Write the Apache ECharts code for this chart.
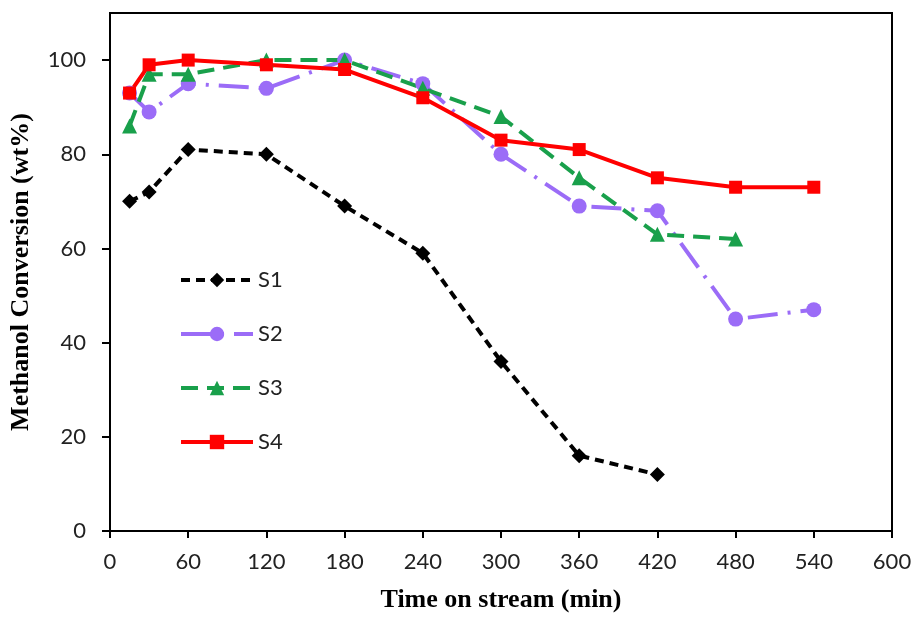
<!DOCTYPE html>
<html>
<head>
<meta charset="utf-8">
<script src="https://cdn.jsdelivr.net/npm/echarts@6/dist/echarts.min.js"></script>
<style>
html,body{margin:0;padding:0;background:#fff;}
#chart{width:920px;height:620px;}
</style>
</head>
<body>
<div id="chart"></div>
<script>
// Time on stream (min)
const time = [15, 30, 60, 120, 180, 240, 300, 360, 420, 480, 540];
// Methanol conversion (wt%)
const s1 = [70, 72, 81, 80, 69, 59, 36, 16, 12];
const s2 = [93, 89, 95, 94, 100, 95, 80, 69, 68, 45, 47];
const s3 = [86, 97, 97, 100, 100, 94, 88, 75, 63, 62];
const s4 = [93, 99, 100, 99, 98, 92, 83, 81, 75, 73, 73];
const seriesNames = ['S1', 'S2', 'S3', 'S4'];
const yTicks = [0, 20, 40, 60, 80, 100];
const xTicks = [0, 60, 120, 180, 240, 300, 360, 420, 480, 540, 600];

function pairs(vals) { return vals.map((v, i) => [time[i], v]); }

const chart = echarts.init(document.getElementById('chart'), null, {renderer: 'canvas'});
const tickFont = {fontFamily: 'Lato', fontSize: 22, color: '#222'};
const titleFont = {fontFamily: 'Liberation Serif', fontWeight: 'bold', fontSize: 26, color: '#000'};

chart.setOption({
  animation: false,
  backgroundColor: '#fff',
  grid: {left: 110, right: 28, top: 13, bottom: 89, show: true, borderColor: '#000', borderWidth: 2, containLabel: false},
  legend: {
    orient: 'vertical', left: 174, top: 264,
    itemWidth: 72, itemHeight: 18, itemGap: 32,
    lineStyle: {width: 4},
    textStyle: {fontFamily: 'Lato', fontSize: 22, color: '#222', lineHeight: 22},
    data: seriesNames
  },
  xAxis: {
    type: 'value', min: 0, max: 600, interval: 60,
    name: 'Time on stream (min)', nameLocation: 'middle', nameGap: 56,
    nameTextStyle: titleFont,
    axisLine: {show: true, lineStyle: {color: '#000', width: 2}},
    axisTick: {show: true, length: 7, lineStyle: {color: '#000', width: 2}, customValues: xTicks},
    axisLabel: Object.assign({margin: 20, customValues: xTicks}, tickFont),
    splitLine: {show: false}
  },
  yAxis: {
    type: 'value', min: 0, max: 110, interval: 20,
    name: 'Methanol Conversion (wt%)', nameLocation: 'middle', nameGap: 76,
    nameTextStyle: titleFont,
    axisLine: {show: true, lineStyle: {color: '#000', width: 2}},
    axisTick: {show: true, length: 8, lineStyle: {color: '#000', width: 2}, customValues: yTicks},
    axisLabel: Object.assign({margin: 24, customValues: yTicks}, tickFont),
    splitLine: {show: false}
  },
  series: [
    {
      name: 'S1', type: 'line', data: pairs(s1),
      symbol: 'diamond', symbolSize: 15,
      itemStyle: {color: '#000'},
      lineStyle: {color: '#000', width: 4, type: [9, 6]}
    },
    {
      name: 'S2', type: 'line', data: pairs(s2),
      symbol: 'circle', symbolSize: 15,
      itemStyle: {color: '#9b6cf7'},
      lineStyle: {color: '#9b6cf7', width: 4, type: [30, 10, 3, 10]}
    },
    {
      name: 'S3', type: 'line', data: pairs(s3),
      symbol: 'triangle', symbolSize: 15,
      itemStyle: {color: '#19a04b'},
      lineStyle: {color: '#19a04b', width: 4, type: [17, 9]}
    },
    {
      name: 'S4', type: 'line', data: pairs(s4),
      symbol: 'rect', symbolSize: 13,
      itemStyle: {color: '#ff0000'},
      lineStyle: {color: '#ff0000', width: 4}
    }
  ]
});
</script>
</body>
</html>
